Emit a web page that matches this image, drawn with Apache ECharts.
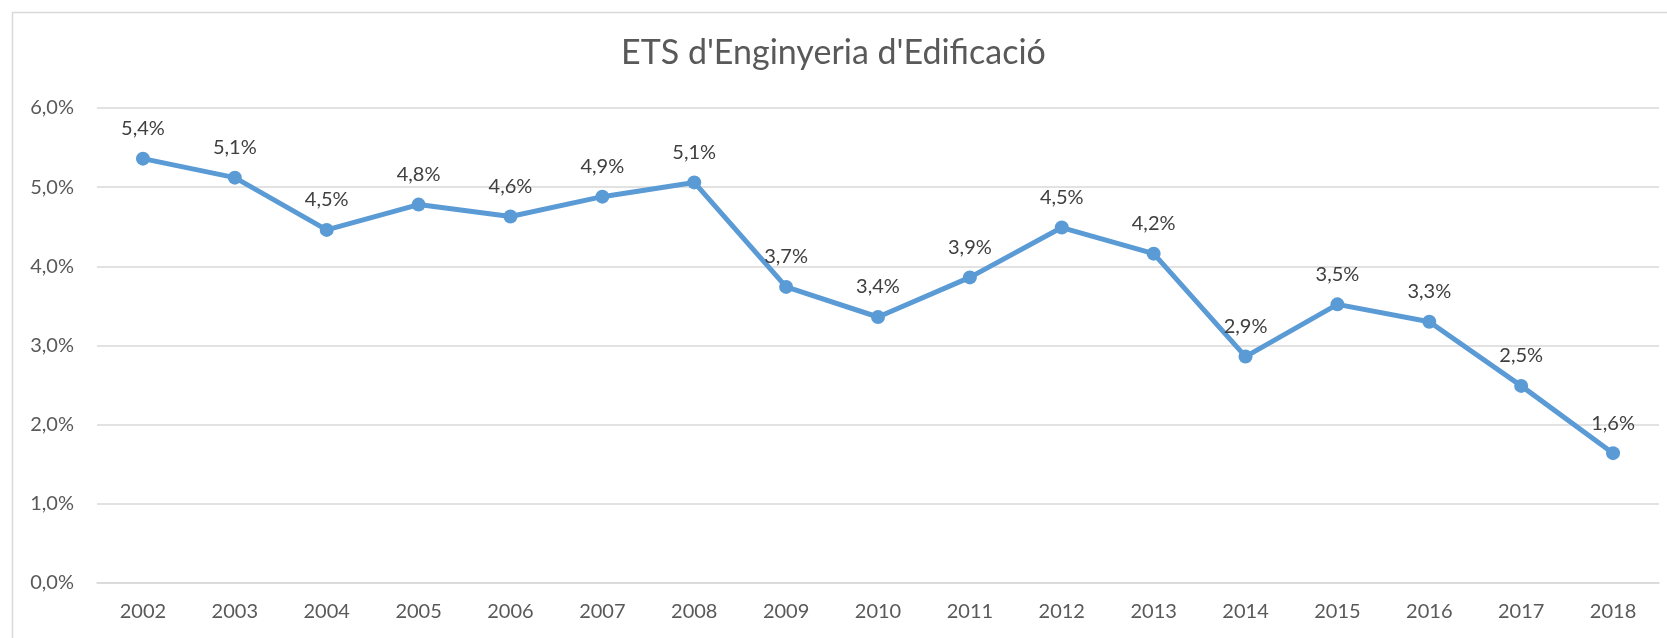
<!DOCTYPE html>
<html>
<head>
<meta charset="utf-8">
<title>ETS d'Enginyeria d'Edificació</title>
<script src="https://cdn.jsdelivr.net/npm/echarts@6/dist/echarts.min.js"></script>
<style>
  html, body { margin: 0; padding: 0; background: #fff; }
  #chart { width: 1667px; height: 638px; }
</style>
</head>
<body>
<div id="chart"></div>
<script>
const years = ['2002', '2003', '2004', '2005', '2006', '2007', '2008', '2009', '2010',
  '2011', '2012', '2013', '2014', '2015', '2016', '2017', '2018'];
// percentages
const rates = [5.36, 5.12, 4.46, 4.78, 4.63, 4.88, 5.06, 3.74, 3.36,
  3.86, 4.49, 4.16, 2.86, 3.52, 3.30, 2.49, 1.64];
const yTicks = { min: 0, max: 6, interval: 1 };

const pct = v => v.toFixed(1).replace('.', ',') + '%';
const font = 'Lato, "Open Sans", sans-serif';

const chart = echarts.init(document.getElementById('chart'));

chart.setOption({
  backgroundColor: '#fff',
  animation: false,
  // outer chart border (only left and top are inside the picture)
  graphic: [{
    type: 'rect',
    left: 10, top: 10,
    shape: { width: 1700, height: 700 },
    style: { fill: 'none', stroke: '#d9d9d9', lineWidth: 1.5 },
    silent: true
  }],
  title: {
    text: "ETS d'Enginyeria d'Edificació",
    left: 'center',
    top: 31,
    textStyle: { fontFamily: font, fontSize: 34, fontWeight: 'normal', color: '#595959' }
  },
  grid: { left: 97, right: 8, top: 108, bottom: 55 },
  xAxis: {
    type: 'category',
    data: years,
    boundaryGap: true,
    axisLine: { lineStyle: { color: '#d9d9d9', width: 1.5 } },
    axisTick: { show: false },
    axisLabel: { fontFamily: font, fontSize: 20, color: '#595959', margin: 19 }
  },
  yAxis: {
    type: 'value',
    min: yTicks.min,
    max: yTicks.max,
    interval: yTicks.interval,
    axisLine: { show: false },
    axisTick: { show: false },
    splitLine: { lineStyle: { color: '#d9d9d9', width: 1.5 } },
    axisLabel: { fontFamily: font, fontSize: 20, color: '#595959', margin: 23, formatter: pct }
  },
  series: [{
    type: 'line',
    data: rates,
    symbol: 'circle',
    symbolSize: 14,
    lineStyle: { color: '#5b9bd5', width: 5 },
    itemStyle: { color: '#5b9bd5' },
    label: {
      show: true,
      position: 'top',
      distance: 13,
      fontFamily: font,
      fontSize: 20,
      color: '#404040',
      formatter: p => pct(p.value)
    }
  }]
});
</script>
</body>
</html>
